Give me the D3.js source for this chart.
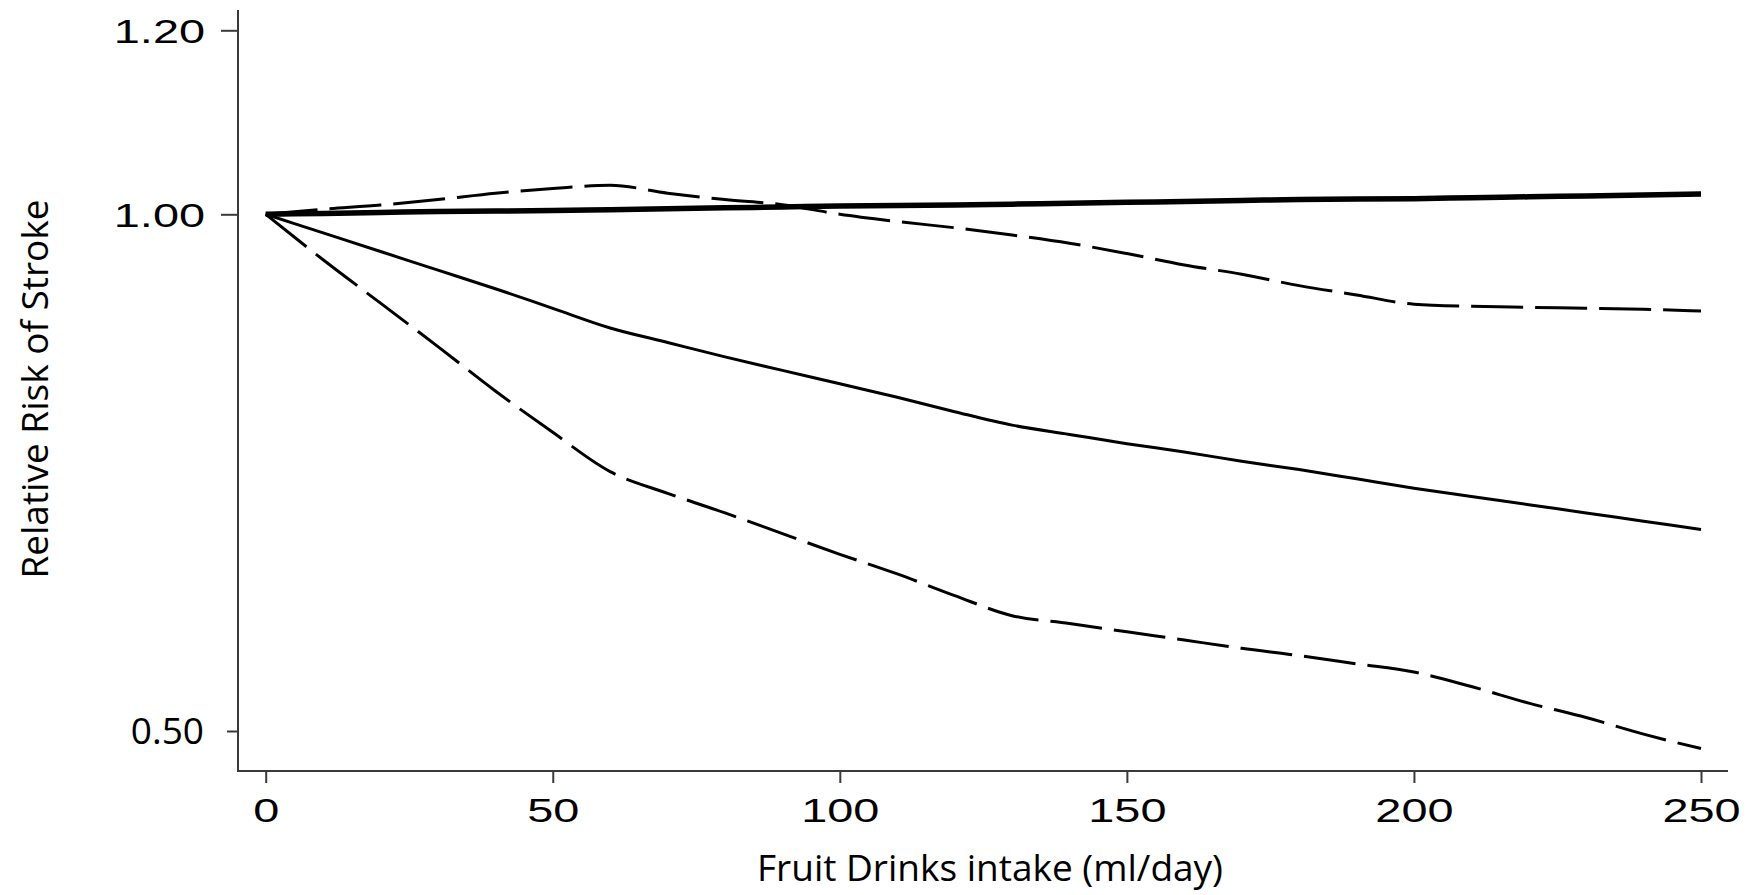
<!DOCTYPE html>
<html>
<head>
<meta charset="utf-8">
<script src="https://cdn.jsdelivr.net/npm/d3@7"></script>
<style>
  html, body { margin: 0; padding: 0; background: #fff; }
  svg { display: block; }
</style>
</head>
<body>
<svg id="chart" width="1757" height="895"></svg>
<script>
// Fruit drinks intake (ml/day) at which the dose-response curves are evaluated
const intake = [0, 10, 20, 30, 40, 50, 60, 70, 80, 90, 100, 110, 120, 130,
                140, 150, 160, 170, 180, 190, 200, 210, 220, 230, 240, 250];

// Non-linear (spline) relative risk estimate
const rrSpline = [1.000, 0.982, 0.964, 0.946, 0.928, 0.909, 0.890, 0.876, 0.862,
                  0.849, 0.836, 0.823, 0.809, 0.796, 0.787, 0.778, 0.770, 0.761,
                  0.753, 0.744, 0.735, 0.727, 0.719, 0.711, 0.703, 0.695];

// Upper and lower 95% confidence limits of the spline estimate
const ciUpper = [1.000, 1.0055, 1.010, 1.016, 1.023, 1.028, 1.0315, 1.023, 1.016,
                 1.0105, 1.000, 0.993, 0.987, 0.980, 0.972, 0.962, 0.951, 0.942,
                 0.931, 0.922, 0.913, 0.911, 0.910, 0.909, 0.908, 0.9065];
const ciLower = [1.000, 0.956, 0.914, 0.872, 0.829, 0.789, 0.751, 0.730, 0.711,
                 0.691, 0.671, 0.652, 0.631, 0.6116, 0.604, 0.596, 0.588, 0.580,
                 0.573, 0.565, 0.557, 0.543, 0.527, 0.513, 0.497, 0.483];

// Linear dose-response relative risk
const rrLinear = [1.000, 1.001, 1.002, 1.003, 1.0035, 1.004, 1.005, 1.006, 1.007,
                  1.008, 1.009, 1.0095, 1.010, 1.011, 1.012, 1.013, 1.014, 1.015,
                  1.016, 1.0165, 1.017, 1.018, 1.019, 1.020, 1.021, 1.022];

// Axis ticks
const xTicks = [0, 50, 100, 150, 200, 250];
const yTicks = [0.50, 1.00, 1.20];

const svg = d3.select("#chart");

const frame = { left: 238, right: 1728, top: 10, bottom: 771 };

const x = d3.scaleLinear().domain([0, 250]).range([265.7, 1701]);
// Piecewise vertical scale through the three labelled risk levels
const y = d3.scaleLinear().domain([0.5, 1.0, 1.2]).range([731, 214.3, 30.3]);

const axisColor = "#3a3a3a";

// Axis frame (left and bottom)
svg.append("line")
  .attr("x1", frame.left).attr("x2", frame.left)
  .attr("y1", frame.top).attr("y2", frame.bottom)
  .attr("stroke", axisColor).attr("stroke-width", 2);
svg.append("line")
  .attr("x1", frame.left - 1).attr("x2", frame.right)
  .attr("y1", frame.bottom).attr("y2", frame.bottom)
  .attr("stroke", axisColor).attr("stroke-width", 2);

// Y axis
const yAxis = svg.append("g")
  .attr("transform", `translate(${frame.left},0)`)
  .call(d3.axisLeft(y).tickValues(yTicks).tickFormat(d3.format(".2f"))
        .tickSize(17).tickPadding(16));
yAxis.select(".domain").remove();
yAxis.selectAll(".tick line").attr("stroke", axisColor).attr("stroke-width", 2)
  .attr("x2", d => d === 0.5 ? -11 : -17);
yAxis.selectAll(".tick text")
  .attr("fill", "#000")
  .attr("dy", "0.36em")
  .each(function (d) {
    const t = d3.select(this);
    if (d === 0.5) {
      t.attr("font-family", "'Open Sans', sans-serif").attr("font-size", 37)
       .attr("x", -34).attr("dy", "0.35em");
    } else {
      t.attr("font-family", "'Liberation Sans', Arial, sans-serif").attr("font-size", 33)
       .attr("x", -33);
      const w = this.getComputedTextLength();
      t.attr("textLength", w * 1.42).attr("lengthAdjust", "spacingAndGlyphs");
    }
  });

// X axis
const xAxis = svg.append("g")
  .attr("transform", `translate(0,${frame.bottom})`)
  .call(d3.axisBottom(x).tickValues(xTicks).tickFormat(d3.format("d"))
        .tickSize(12).tickPadding(8));
xAxis.select(".domain").remove();
xAxis.selectAll(".tick line").attr("stroke", axisColor).attr("stroke-width", 2);
xAxis.selectAll(".tick text")
  .attr("fill", "#000")
  .attr("font-family", "'Liberation Sans', Arial, sans-serif")
  .attr("font-size", 33)
  .attr("y", 51).attr("dy", 0)
  .each(function () {
    const w = this.getComputedTextLength();
    d3.select(this).attr("textLength", w * 1.42).attr("lengthAdjust", "spacingAndGlyphs");
  });

// Curves
const line = d3.line()
  .x((d, i) => x(intake[i]))
  .y(d => y(d))
  .curve(d3.curveMonotoneX);

const plot = svg.append("g").attr("fill", "none").attr("stroke", "#000");

plot.append("path").datum(ciUpper)
  .attr("d", line).attr("stroke-width", 3).attr("stroke-dasharray", "52 12");
plot.append("path").datum(ciLower)
  .attr("d", line).attr("stroke-width", 3).attr("stroke-dasharray", "52 12");
plot.append("path").datum(rrSpline)
  .attr("d", line).attr("stroke-width", 3);
plot.append("path").datum(rrLinear)
  .attr("d", line).attr("stroke-width", 5.5);

// Axis titles
svg.append("text")
  .attr("transform", "translate(48,389) rotate(-90)")
  .attr("text-anchor", "middle")
  .attr("font-family", "'Open Sans', sans-serif")
  .attr("font-size", 37)
  .attr("fill", "#000")
  .text("Relative Risk of Stroke");

svg.append("text")
  .attr("x", 990).attr("y", 881)
  .attr("text-anchor", "middle")
  .attr("font-family", "'Open Sans', sans-serif")
  .attr("font-size", 37)
  .attr("fill", "#000")
  .text("Fruit Drinks intake (ml/day)");
</script>
</body>
</html>
